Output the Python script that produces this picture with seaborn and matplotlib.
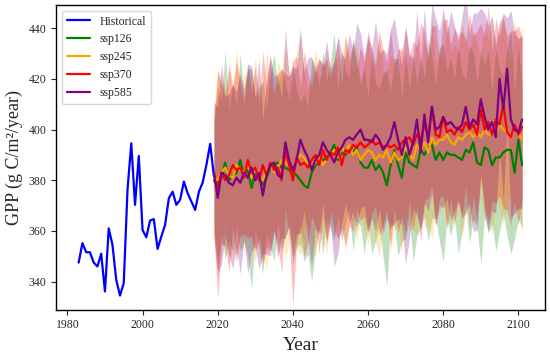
import matplotlib
matplotlib.use("Agg")
import matplotlib.pyplot as plt
import numpy as np
import pandas as pd
import seaborn as sns

# historical GPP, 1983-2019
hist_years = list(range(1983, 2020))
hist_gpp = [347.5, 355.2, 351.6, 351.6, 347.5, 346.0, 351.0, 336.1, 361.0, 354.5,
            340.7, 334.5, 339.4, 376.2, 394.6, 370.3, 389.6, 360.4, 357.5, 364.1,
            364.7, 352.9, 357.8, 362.4, 372.9, 375.5, 370.3, 372.3, 379.5, 374.9,
            371.6, 368.3, 375.5, 379.1, 386.1, 394.4, 381.5]

# scenario means, 2019-2101
ssp_years = list(range(2019, 2102))
ssp126 = [382, 379, 381, 387, 380, 382, 383, 388, 382, 384,
          377, 383, 382, 378, 381, 385, 386, 387, 385, 385,
          384, 383, 382, 380, 378, 377, 383, 386, 387, 388,
          389, 391, 394, 388, 391, 390, 392, 391, 393, 387,
          385, 385, 388, 384, 386, 383, 378, 386, 392, 386,
          381, 391, 387, 386, 385, 392, 390, 393, 394, 388,
          391, 388, 391, 390, 390, 389, 388, 392, 391, 395,
          387, 386, 393, 392, 386, 389, 389, 391, 392, 392,
          383, 396, 386]
ssp245 = [381, 380, 383, 385, 382, 381, 386, 384, 383, 387,
          381, 384, 382, 380, 384, 386, 383, 385, 388, 387,
          386, 385, 388, 390, 389, 386, 385, 387, 389, 386,
          388, 390, 392, 389, 393, 391, 394, 390, 392, 388,
          390, 392, 391, 388, 390, 389, 392, 387, 391, 388,
          389, 393, 391, 388, 394, 392, 395, 391, 397, 394,
          396, 396, 398, 395, 394, 397, 396, 398, 399, 397,
          399, 397, 400, 398, 399, 398, 402, 400, 399, 397,
          401, 399, 396]
ssp370 = [380, 377, 383, 380, 382, 386, 384, 385, 381, 388,
          383, 385, 380, 386, 382, 387, 384, 385, 380, 392,
          386, 380, 389, 386, 387, 385, 388, 390, 386, 392,
          388, 391, 390, 393, 386, 392, 391, 394, 393, 395,
          393, 394, 396, 394, 395, 393, 394, 393, 394, 392,
          395, 396, 397, 394, 398, 396, 402, 397, 409, 398,
          397, 405, 399, 400, 398, 401, 399, 403, 400, 402,
          398, 408, 400, 403, 398, 404, 402, 410, 399, 397,
          402, 398, 401]
ssp585 = [383, 373, 383, 382, 379, 378, 381, 379, 383, 381,
          385, 380, 383, 374, 382, 386, 387, 382, 381, 395,
          388, 384, 388, 396, 392, 389, 384, 388, 390, 395,
          392, 390, 387, 391, 393, 396, 397, 396, 398, 400,
          396, 396, 395, 398, 396, 392, 394, 397, 403, 396,
          390, 397, 390, 395, 404, 391, 406, 395, 409, 400,
          401, 405, 402, 403, 401, 400, 402, 409, 401, 404,
          402, 412, 405, 400, 403, 397, 420, 408, 424, 404,
          400, 399, 404]

# band depth below the mean, 2019-2101
lo126 = [20, 32, 22, 38, 24, 30, 21, 36, 26, 34,
         40, 23, 29, 35, 22, 31, 38, 24, 33, 27,
         22, 36, 28, 25, 30, 26, 43, 33, 26, 37,
         24, 30, 38, 22, 35, 27, 23, 39, 29, 25,
         34, 22, 37, 28, 24, 33, 40, 23, 30, 36,
         25, 34, 22, 38, 27, 31, 24, 37, 29, 23,
         35, 40, 26, 32, 24, 38, 28, 22, 36, 30,
         25, 39, 27, 33, 23, 37, 29, 24, 34, 41,
         26, 31, 25]
lo245 = [24, 36, 30, 22, 35, 27, 38, 23, 32, 25,
         28, 37, 24, 30, 39, 26, 23, 34, 28, 38,
         31, 24, 35, 40, 27, 23, 30, 38, 25, 29,
         37, 26, 24, 33, 28, 39, 31, 25, 36, 22,
         29, 38, 25, 33, 40, 27, 23, 35, 30, 26,
         38, 24, 31, 27, 36, 22, 34, 29, 40, 25,
         30, 23, 37, 28, 33, 26, 39, 31, 24, 35,
         28, 24, 36, 30, 41, 26, 33, 38, 27, 23,
         35, 29, 38]
lo370 = [22, 44, 28, 26, 38, 24, 36, 27, 22, 31,
         25, 33, 23, 39, 28, 35, 24, 30, 37, 23,
         28, 50, 33, 24, 37, 30, 22, 28, 35, 26,
         33, 23, 30, 36, 25, 38, 29, 34, 24, 31,
         27, 35, 29, 24, 37, 31, 26, 39, 25, 33,
         29, 37, 25, 34, 28, 40, 30, 24, 31, 36,
         24, 31, 38, 27, 35, 29, 33, 25, 39, 28,
         34, 27, 30, 40, 26, 33, 28, 41, 31, 35,
         30, 36, 28]
lo585 = [25, 30, 36, 24, 28, 33, 27, 36, 26, 38,
         33, 26, 38, 23, 31, 36, 27, 33, 24, 38,
         26, 34, 29, 37, 24, 32, 38, 27, 31, 24,
         36, 27, 41, 40, 30, 25, 34, 28, 37, 31,
         26, 36, 30, 38, 27, 33, 29, 36, 40, 31,
         28, 50, 33, 26, 38, 30, 35, 27, 34, 38,
         31, 36, 29, 39, 33, 28, 37, 42, 30, 44,
         42, 29, 38, 40, 35, 30, 28, 36, 22, 39,
         33, 30, 35]

# band height above the mean, 2019-2101
hi126 = [20, 38, 30, 44, 28, 36, 26, 42, 31, 40,
         47, 29, 35, 41, 27, 37, 44, 30, 39, 33,
         28, 42, 34, 31, 36, 32, 45, 39, 30, 43,
         30, 36, 44, 28, 41, 33, 29, 45, 35, 31,
         40, 28, 43, 34, 30, 39, 46, 29, 36, 42,
         31, 40, 28, 44, 33, 37, 30, 43, 35, 29,
         41, 46, 32, 38, 30, 44, 34, 28, 42, 36,
         31, 45, 33, 39, 29, 43, 35, 30, 40, 47,
         32, 37, 31]
hi245 = [26, 44, 37, 30, 42, 34, 46, 31, 39, 33,
         35, 45, 31, 38, 47, 33, 30, 42, 35, 46,
         38, 31, 43, 48, 34, 30, 37, 45, 32, 36,
         44, 33, 31, 40, 35, 46, 38, 32, 43, 29,
         36, 45, 32, 40, 47, 34, 30, 42, 37, 33,
         45, 31, 38, 34, 43, 29, 41, 36, 47, 32,
         37, 30, 44, 35, 40, 33, 46, 38, 31, 42,
         35, 31, 43, 37, 46, 33, 40, 45, 34, 30,
         42, 36, 44]
hi370 = [24, 46, 35, 33, 44, 31, 43, 34, 29, 38,
         32, 40, 30, 45, 35, 42, 31, 37, 44, 30,
         35, 47, 40, 31, 44, 37, 29, 35, 42, 33,
         40, 30, 37, 43, 32, 45, 36, 41, 31, 38,
         34, 42, 36, 31, 44, 38, 33, 46, 32, 40,
         36, 44, 32, 41, 35, 46, 37, 31, 32, 43,
         31, 38, 45, 34, 42, 36, 40, 32, 46, 35,
         41, 34, 37, 46, 33, 40, 35, 34, 38, 42,
         37, 43, 35]
hi585 = [28, 36, 43, 31, 35, 40, 34, 43, 33, 45,
         40, 33, 45, 30, 38, 43, 34, 40, 31, 45,
         33, 41, 36, 44, 31, 39, 45, 34, 38, 31,
         43, 34, 40, 46, 37, 32, 41, 35, 44, 38,
         33, 43, 37, 45, 34, 40, 36, 43, 41, 38,
         35, 44, 40, 33, 43, 37, 42, 34, 41, 44,
         38, 43, 36, 44, 40, 35, 43, 44, 37, 42,
         44, 36, 41, 41, 42, 37, 22, 38, 20, 43,
         38, 37, 33]

scenarios = ["ssp126", "ssp245", "ssp370", "ssp585"]
colors = ["green", "orange", "red", "purple"]
means = [ssp126, ssp245, ssp370, ssp585]
lows = [lo126, lo245, lo370, lo585]
highs = [hi126, hi245, hi370, hi585]

sns.set_style("ticks")
plt.rcParams["font.family"] = ["Liberation Serif", "DejaVu Serif"]

fig, ax = plt.subplots(figsize=(5.5, 3.54), dpi=100)
fig.subplots_adjust(left=0.102, right=0.991, bottom=0.125, top=0.986)

hist = pd.DataFrame({"Year": hist_years, "GPP": hist_gpp})
sns.lineplot(data=hist, x="Year", y="GPP", color="blue", lw=1.6, label="Historical", ax=ax)

# shaded ranges
for col, m, lo, hi in zip(colors, means, lows, highs):
    m = np.array(m, dtype=float)
    ax.fill_between(ssp_years, m - np.array(lo), m + np.array(hi), color=col, alpha=0.25, lw=0)

for name, col, m in zip(scenarios, colors, means):
    df = pd.DataFrame({"Year": ssp_years, "GPP": m})
    sns.lineplot(data=df, x="Year", y="GPP", color=col, lw=1.6, label=name, ax=ax)

ax.set_xlim(1977.0, 2107.1)
ax.set_ylim(328.9, 449.2)
ax.set_xticks([1980, 2000, 2020, 2040, 2060, 2080, 2100])
ax.set_yticks([340, 360, 380, 400, 420, 440])
ax.tick_params(labelsize=8.5, length=3.5, width=0.8)
for sp in ax.spines.values():
    sp.set_linewidth(1.0)
    sp.set_color("black")
ax.set_xlabel("Year", fontsize=14)
ax.set_ylabel("GPP (g C/m²/year)", fontsize=13)
ax.legend(loc="upper left", fontsize=8.5, frameon=True)

fig.savefig("out.png", dpi=100)
